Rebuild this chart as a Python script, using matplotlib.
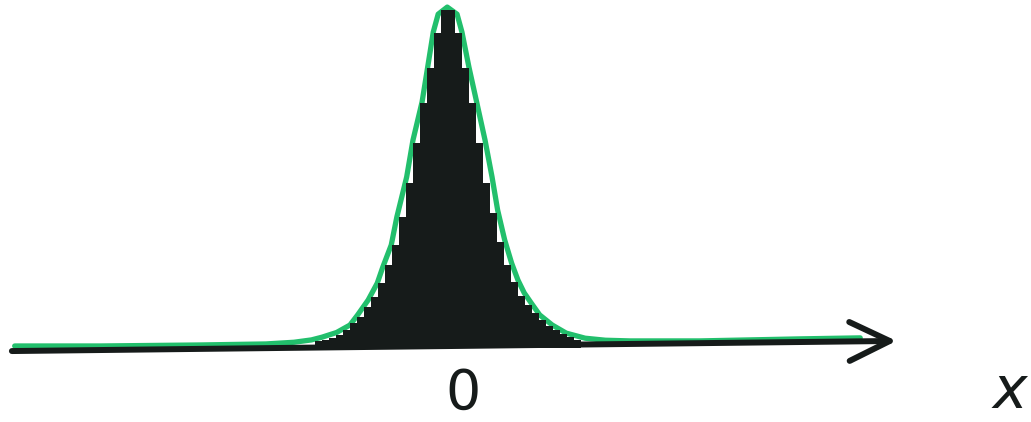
import numpy as np
import matplotlib
matplotlib.use("Agg")
import matplotlib.pyplot as plt

# histogram of the peaked distribution: bin width 0.1, bins from -1.9 to 1.9
BIN_WIDTH = 0.1
bin_left_edges = np.round(np.arange(-1.9, 1.9, BIN_WIDTH), 2)
bar_heights = [
    0.021, 0.024, 0.030, 0.038, 0.053, 0.074, 0.092, 0.121, 0.151, 0.192,
    0.246, 0.305, 0.388, 0.488, 0.607, 0.725, 0.828, 0.932, 1.000,
    1.000, 0.932, 0.828, 0.725, 0.607, 0.488, 0.399, 0.314, 0.246, 0.195,
    0.154, 0.127, 0.104, 0.083, 0.065, 0.053, 0.041, 0.033, 0.024,
]

# smooth density curve drawn over the histogram (green)
curve_x = [-6.19, -4.97, -3.54, -2.60, -2.20, -1.95, -1.80, -1.59, -1.40, -1.29,
           -1.14, -1.01, -0.93, -0.81, -0.73, -0.59, -0.50, -0.37, -0.29, -0.21,
           -0.14, -0.01, 0.13, 0.20, 0.30, 0.41, 0.53, 0.63, 0.71, 0.81,
           0.91, 1.00, 1.09, 1.19, 1.31, 1.49, 1.69, 1.96, 2.25, 2.60,
           3.60, 5.03, 5.89]
curve_y = [0.006, 0.006, 0.009, 0.012, 0.017, 0.024, 0.032, 0.046, 0.068, 0.098,
           0.142, 0.192, 0.240, 0.305, 0.388, 0.506, 0.615, 0.728, 0.831, 0.935,
           0.988, 1.009, 0.988, 0.935, 0.831, 0.728, 0.615, 0.506, 0.408, 0.320,
           0.251, 0.201, 0.163, 0.133, 0.098, 0.068, 0.044, 0.029, 0.023, 0.021,
           0.021, 0.027, 0.030]

# x axis drawn by hand: start and tip of the arrow (slightly tilted)
axis_start = (-6.23, -0.009)
axis_tip = (6.41, 0.021)

INK = "#161b1a"
GREEN = "#22bf6c"

fig = plt.figure(figsize=(10.31, 4.22), dpi=100)
ax = fig.add_axes([0, 0, 1, 1])
ax.set_xlim(-6.4, 8.33)
ax.set_ylim(-0.219, 1.030)
ax.axis("off")

ax.plot(curve_x, curve_y, color=GREEN, lw=3.8, solid_capstyle="round",
        solid_joinstyle="round", zorder=2)
ax.bar(bin_left_edges, bar_heights, width=BIN_WIDTH, align="edge",
       color=INK, edgecolor="none", zorder=3)

ax.annotate("", xy=axis_tip, xytext=axis_start,
            arrowprops=dict(arrowstyle="->,head_length=2.9,head_width=1.4",
                            mutation_scale=10, lw=4.3, color=INK,
                            shrinkA=0, shrinkB=0, capstyle="round"),
            zorder=4)

ax.text(0.22, -0.135, "0", fontsize=40, ha="center", va="center",
        color=INK, family="DejaVu Sans")
ax.text(8.02, -0.13, "x", fontsize=42, style="italic", ha="center",
        va="center", color=INK, family="DejaVu Sans")

fig.savefig("out.png", dpi=100, facecolor="white")
